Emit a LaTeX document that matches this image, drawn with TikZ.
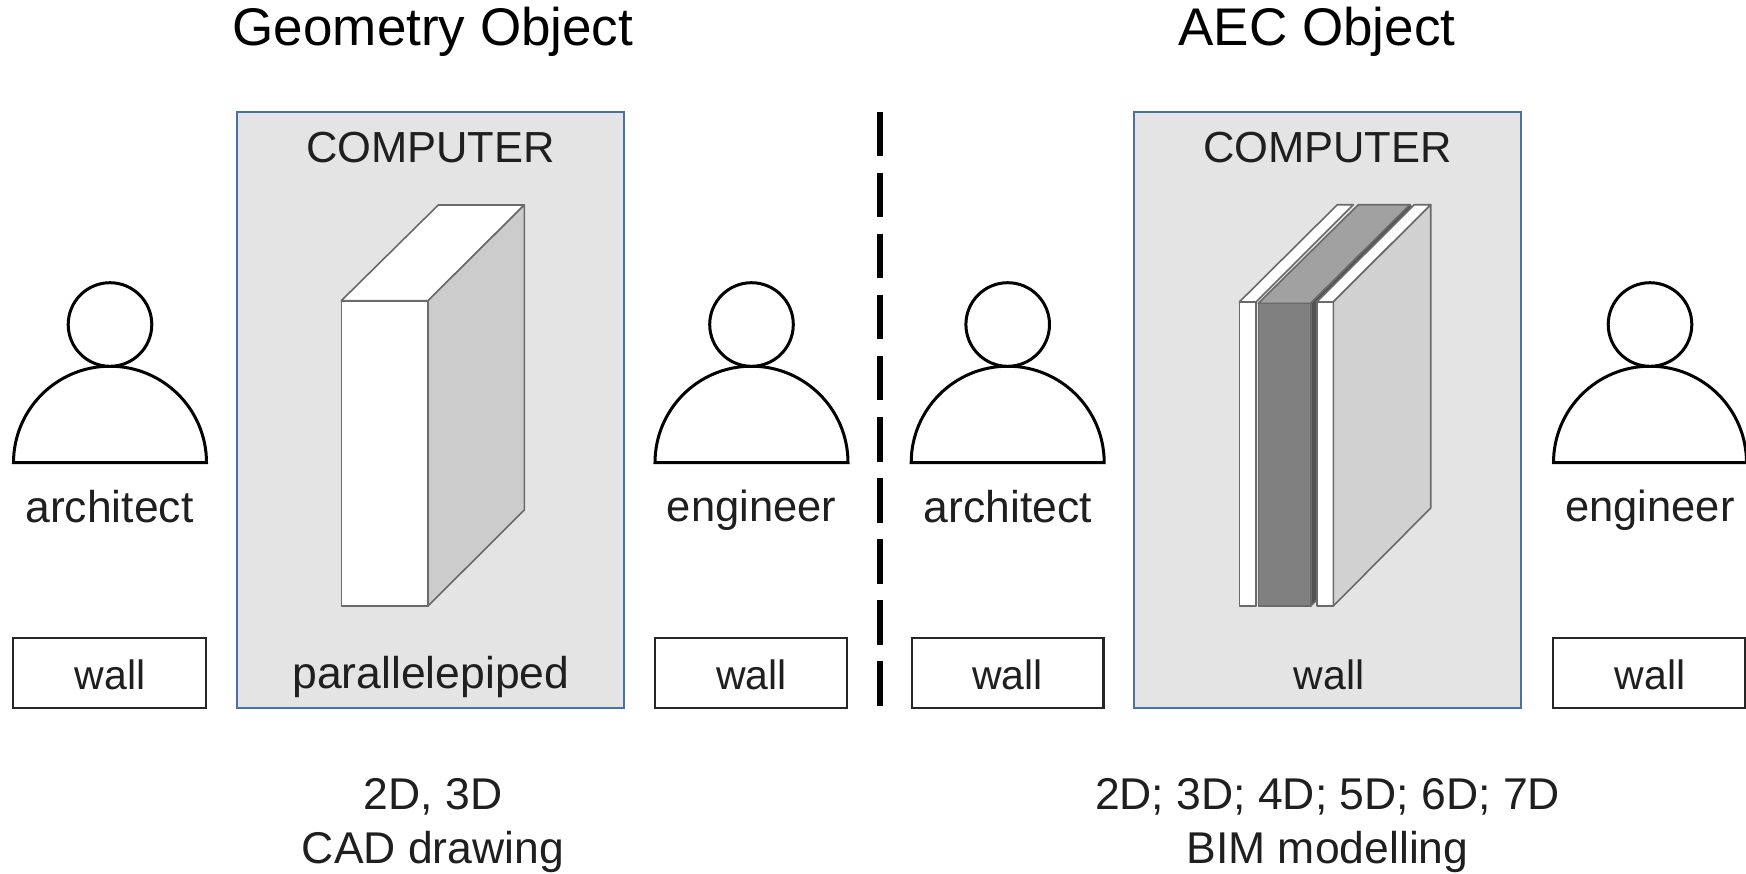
\documentclass[tikz,border=0pt]{standalone}
\usepackage{fontspec}
\setmainfont{Liberation Sans}
\definecolor{panelfill}{HTML}{E4E4E4}
\definecolor{panelline}{HTML}{4C6FA8}
\definecolor{edgegrey}{HTML}{6A6A6A}
\tikzset{
  x=1pt,y=-1pt,
  lbl/.style={inner sep=0pt,text=black!88,align=center,font=\fontsize{43.5}{50}\selectfont},
  rolelbl/.style={inner sep=0pt,text=black!88,align=center,font=\fontsize{44.5}{50}\selectfont},
  walllbl/.style={inner sep=0pt,text=black!88,align=center,font=\fontsize{41}{50}\selectfont},
  title/.style={inner sep=0pt,text=black,font=\fontsize{53}{60}\selectfont},
  capt/.style={inner sep=0pt,text=black!88,align=center,font=\fontsize{44.5}{54.6}\selectfont},
  panel/.style={draw=panelline,fill=panelfill,line width=2pt},
  wallbox/.style={draw=black!85,line width=2.2pt,fill=white},
  person/.style={draw=black,line width=3pt,fill=white},
  solid3d/.style={draw=edgegrey,line width=1.6pt,line join=round},
}
\newcommand{\personfig}[1]{%
  \draw[person] (#1-96.5,462.7) arc[start angle=180,end angle=360,radius=96.5] -- cycle;
  \draw[person] (#1,324.5) circle[radius=41.8];
}
\begin{document}
\begin{tikzpicture}
\useasboundingbox (0,0) rectangle (1746,873);
\node[title] (t1) at (433,32) {Geometry Object};
\node[title] (t2) at (1317,32) {AEC Object};

\draw[panel] (236.7,111.7) rectangle (624,707.5);
\draw[panel] (1134,111.7) rectangle (1521,707.5);
\node[lbl] (c1) at (430.5,148) {COMPUTER};
\node[lbl] (c2) at (1327.5,148) {COMPUTER};

% parallelepiped
\draw[solid3d,fill=white] (341.3,300.7) -- (438.3,205) -- (524.3,205) -- (428,300.7) -- cycle;
\draw[solid3d,fill=white] (341.3,300.7) rectangle (428,606);
\draw[solid3d,fill=black!20] (428,300.7) -- (524.3,205) -- (524.3,510) -- (428,606) -- cycle;

% layered wall
\draw[solid3d,fill=white] (1239.3,302) -- (1337.3,204.7) -- (1353.3,204.7) -- (1256,302) -- cycle;
\draw[solid3d,fill=white] (1239.3,302) rectangle (1256,606);
\draw[solid3d,fill=black!37] (1258.3,303.3) -- (1358.3,204.7) -- (1410,204.7) -- (1310.7,303.3) -- cycle;
\draw[solid3d,fill=black!68] (1310.7,303.3) -- (1410,204.7) -- (1412,208) -- (1316.7,303.3) -- (1316.7,600) -- (1310.7,606) -- cycle;
\draw[solid3d,fill=black!50] (1258.3,303.3) rectangle (1310.7,606);
\draw[solid3d,fill=white] (1316.7,302) -- (1414.3,204.7) -- (1430.7,204.7) -- (1333.3,302) -- cycle;
\draw[solid3d,fill=white] (1316.7,302) rectangle (1333.3,606);
\draw[solid3d,fill=black!18] (1333.3,302) -- (1430.7,204.7) -- (1430.7,508) -- (1333.3,606) -- cycle;

\node[rolelbl] (o1) at (431,677) {parallelepiped};
\node[walllbl] (o2) at (1329,675) {wall};

% people
\personfig{110}
\personfig{751.5}
\personfig{1007.7}
\personfig{1650}

\node[rolelbl] (r1) at (109.5,507) {architect};
\node[lbl] (r2) at (751.5,510) {engineer};
\node[rolelbl] (r3) at (1007.7,507) {architect};
\node[lbl] (r4) at (1650,510) {engineer};

% wall boxes
\draw[wallbox] (13.3,638) rectangle (206,708.3);
\draw[wallbox] (654.7,638) rectangle (847.3,708);
\draw[wallbox] (912,638) rectangle (1103.5,708);
\draw[wallbox] (1553,638) rectangle (1745,708);
\node[walllbl] (w1) at (110,675) {wall};
\node[walllbl] (w2) at (751.5,675) {wall};
\node[walllbl] (w3) at (1007.7,675) {wall};
\node[walllbl] (w4) at (1650,675) {wall};

% divider
\coordinate (da) at (880.3,111.5);
\coordinate (db) at (880.3,706);
\draw[line width=6pt,dash pattern=on 44.5pt off 16.6pt] (da) -- (db);

\node[capt] (b1) at (433,825.5) {2D, 3D\\CAD drawing};
\node[capt] (b2) at (1327.5,825.5) {2D; 3D; 4D; 5D; 6D; 7D\\BIM modelling};
\end{tikzpicture}
\end{document}
